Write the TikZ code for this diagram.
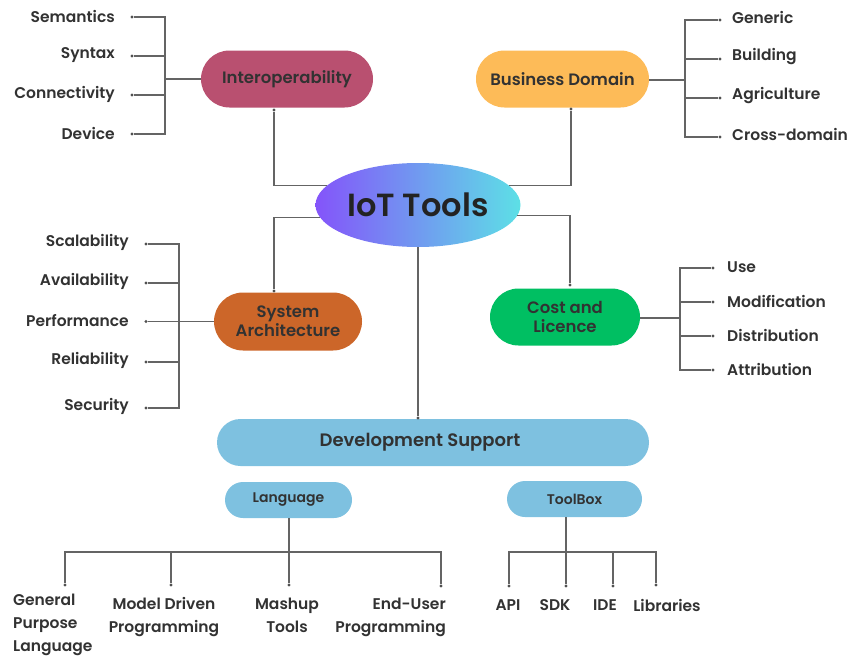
\documentclass[tikz,border=0pt]{standalone}
\usepackage{fontspec}
\setmainfont{Poppins}[BoldFont={Poppins SemiBold}]
\usetikzlibrary{shapes.misc,shapes.geometric}
\definecolor{txt}{RGB}{50,50,50}
\definecolor{linegray}{RGB}{100,100,100}
\definecolor{interopc}{RGB}{185,80,112}
\definecolor{busc}{RGB}{253,187,88}
\definecolor{sysc}{RGB}{204,102,41}
\definecolor{costc}{RGB}{0,191,98}
\definecolor{devc}{RGB}{126,193,224}
\definecolor{iotl}{RGB}{132,84,250}
\definecolor{iotr}{RGB}{93,224,230}
\begin{document}
\begin{tikzpicture}[x=1pt,y=-1pt,
  line/.style={draw=linegray, line width=1.1pt},
  dot/.style={circle, fill=linegray!80!black, inner sep=0pt, minimum size=3.4pt},
  pill/.style={rounded rectangle, inner sep=0pt, text=txt, align=center, font=\fontsize{16.5}{20}\selectfont\bfseries},
  item/.style={text=txt, inner sep=0pt, font=\fontsize{15.5}{23}\selectfont\bfseries},
]
\useasboundingbox (0,0) rectangle (849,656);

% central ellipse
\node[ellipse, inner sep=0pt, minimum width=205pt, minimum height=84pt, left color=iotl, right color=iotr, text=txt!70!black, font=\fontsize{32}{36}\selectfont\bfseries] (iot) at (418,205) {IoT Tools};

% main pills
\node[pill, fill=interopc, minimum width=172pt, minimum height=57pt] (interop) at (287,79) {Interoperability};
\node[pill, fill=busc, minimum width=173pt, minimum height=57pt] (bus) at (562.5,79) {Business Domain};
\node[pill, fill=sysc, minimum width=148pt, minimum height=58pt] (sys) at (288,321.5) {System\\[-1pt]Architecture};
\node[pill, fill=costc, minimum width=150pt, minimum height=57pt] (cost) at (565,317) {Cost and\\[-1pt]Licence};
\node[pill, fill=devc, minimum width=432pt, minimum height=47pt, font=\fontsize{18}{20}\selectfont\bfseries] (dev) at (433,442.5) {Development Support\hspace*{26pt}};
\node[pill, fill=devc, minimum width=127pt, minimum height=36pt, font=\fontsize{14}{16}\selectfont\bfseries] (lang) at (288.5,500) {Language};
\node[pill, fill=devc, minimum width=135pt, minimum height=36pt, font=\fontsize{14}{16}\selectfont\bfseries] (tool) at (574.5,499) {ToolBox};

% connectors from IoT Tools
\node[dot] (dint) at (274,110) {};
\node[dot] (dbus) at (571,109) {};
\node[dot] (dsys) at (274,291) {};
\node[dot] (dcost) at (570,285) {};
\node[dot] (ddev) at (418,418) {};
\draw[line] (iot.168) -| (dint);
\draw[line] (iot.12) -| (dbus);
\draw[line] (iot.187) -| (dsys);
\draw[line] (iot.-6) -| (dcost);
\draw[line] (iot.south) -- (ddev);

% Interoperability items
\coordinate (ibr) at (165,79);
\foreach \n/\t/\y in {isem/Semantics/17, isyn/Syntax/56, icon/Connectivity/95, idev/Device/134}{
  \node[item, anchor=east] (\n) at (115,\y-1) {\t};
  \node[dot] (d\n) at (132,\y) {};
  \draw[line] (d\n) -| (ibr);
}
\draw[line] (ibr) -- (interop.west);

% Business items
\coordinate (bbr) at (685,80);
\draw[line] (bus.east |- bbr) -- (bbr);
\foreach \n/\t/\y in {bgen/Generic/20, bbld/Building/59, bagr/Agriculture/98, bcross/Cross-domain/137}{
  \node[item, anchor=west] (\n) at (732,\y-2.5) {\t};
  \node[dot] (d\n) at (720,\y) {};
  \draw[line] (bbr) |- (d\n);
}

% System architecture items
\coordinate (sbr) at (179,321.5);
\foreach \n/\t/\y in {sscal/Scalability/244, savail/Availability/283, srel/Reliability/362, ssec/Security/408}{
  \node[item, anchor=east] (\n) at (129,\y-2) {\t};
  \node[dot] (d\n) at (146,\y) {};
  \draw[line] (d\n) -| (sbr);
}
\node[item, anchor=east] (sperf) at (129,320.5) {Performance};
\node[dot] (dsperf) at (146,321.5) {};
\draw[line] (dsperf) -- (sys.west);

% Cost items
\coordinate (cbr) at (680,318);
\draw[line] (cost.east |- cbr) -- (cbr);
\foreach \n/\t/\y in {cuse/Use/268, cmod/Modification/302, cdist/Distribution/336, cattr/Attribution/370}{
  \node[item, anchor=west] (\n) at (727,\y-1) {\t};
  \node[dot] (d\n) at (713,\y) {};
  \draw[line] (cbr) |- (d\n);
}

% Language subtree
\coordinate (lbr) at (289,552);
\draw[line] (lang.south -| lbr) -- (lbr);
\node[dot] (lgp) at (65,585) {};
\node[dot] (lmd) at (171,585) {};
\node[dot] (lmu) at (289,585) {};
\node[dot] (leu) at (441,586) {};
\draw[line] (lbr) -| (lgp);
\draw[line] (lbr) -| (lmd);
\draw[line] (lbr) -- (lmu);
\draw[line] (lbr) -| (leu);
\node[item, anchor=north west, align=left] (tgp) at (13,594) {General\\Purpose\\Language};
\node[item, anchor=north, align=center] (tmd) at (164,597.5) {Model Driven\\Programming};
\node[item, anchor=north, align=center] (tmu) at (287,597.5) {Mashup\\Tools};
\node[item, anchor=north east, align=right] (teu) at (446,597.5) {End-User\\Programming};

% ToolBox subtree
\coordinate (tbr) at (566,552);
\draw[line] (tool.south -| tbr) -- (tbr);
\node[dot] (tapi) at (509,586) {};
\node[dot] (tsdk) at (566,586) {};
\node[dot] (tide) at (613,586) {};
\node[dot] (tlib) at (656,585) {};
\draw[line] (tbr) -| (tapi);
\draw[line] (tbr) -- (tsdk);
\draw[line] (tbr) -| (tide);
\draw[line] (tbr) -| (tlib);
\node[item] (lapi) at (508,605.5) {API};
\node[item] (lsdk) at (555,605.5) {SDK};
\node[item] (lide) at (605,605.5) {IDE};
\node[item] (llib) at (667,605.5) {Libraries};
\end{tikzpicture}
\end{document}
